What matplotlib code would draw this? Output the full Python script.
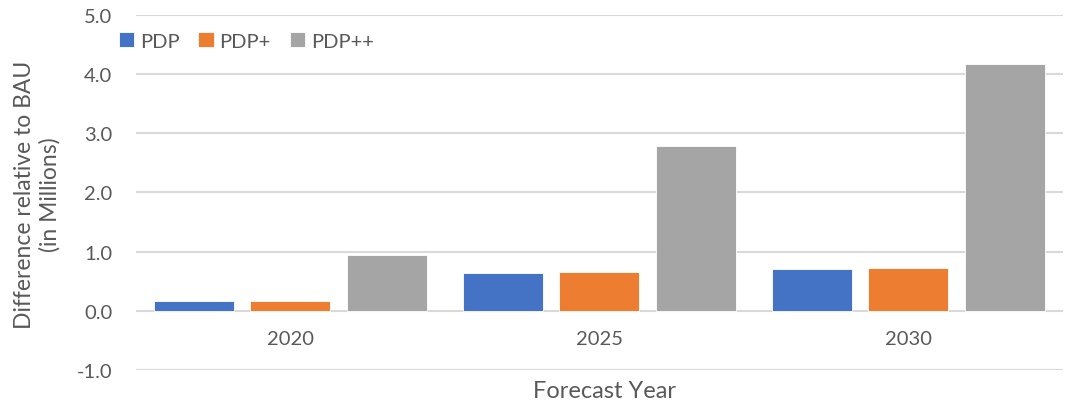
import matplotlib
matplotlib.use("Agg")
import matplotlib.pyplot as plt
import numpy as np

years = ["2020", "2025", "2030"]
series_names = ["PDP", "PDP+", "PDP++"]
pdp = [0.17, 0.64, 0.70]
pdp_plus = [0.17, 0.65, 0.72]
pdp_plus_plus = [0.95, 2.78, 4.17]
y_ticks = [-1.0, 0.0, 1.0, 2.0, 3.0, 4.0, 5.0]

colors = ["#4472C4", "#ED7D31", "#A5A5A5"]
text_color = "#595959"
grid_color = "#D9D9D9"

plt.rcParams["font.family"] = ["Lato", "DejaVu Sans"]

fig = plt.figure(figsize=(10.68, 4.06), dpi=100)
ax = fig.add_axes([0.1273, 0.0862, 0.8680, 0.8744])

x = np.arange(len(years))
bar_w = 0.259
pitch = 0.311
values = [pdp, pdp_plus, pdp_plus_plus]
handles = []
for i, (name, vals, c) in enumerate(zip(series_names, values, colors)):
    b = ax.bar(x + (i - 1) * pitch, vals, width=bar_w, color=c,
               edgecolor="white", linewidth=0.6, label=name, zorder=3)
    handles.append(b)

ax.set_xlim(-0.5, len(years) - 0.5)
ax.set_ylim(y_ticks[0], y_ticks[-1])
ax.set_yticks(y_ticks)
ax.set_yticklabels([f"{t:.1f}" for t in y_ticks], fontsize=14.5, color=text_color)
ax.tick_params(axis="y", length=0, pad=17)
ax.set_xticks([])
ax.grid(axis="y", color=grid_color, linewidth=1.5, zorder=0)
for s in ax.spines.values():
    s.set_visible(False)

# category labels sit just under the zero line
for xi, yr in zip(x, years):
    ax.text(xi, -0.47, yr, ha="center", va="center", fontsize=14.5, color=text_color)

fig.text(0.566, 0.035, "Forecast Year", ha="center", va="center",
         fontsize=17, color=text_color)
fig.text(0.035, 0.52, "Difference relative to BAU\n(in Millions)", ha="center",
         va="center", rotation=90, fontsize=16.5, color=text_color, linespacing=1.2)

leg = fig.legend(handles=handles, labels=series_names, loc="center left",
                 bbox_to_anchor=(0.111, 0.897), ncol=3, frameon=False,
                 fontsize=14.5, handlelength=0.75, handleheight=0.75,
                 handletextpad=0.3, columnspacing=0.95, borderaxespad=0,
                 borderpad=0)
for t in leg.get_texts():
    t.set_color(text_color)

fig.savefig("out.png", dpi=100, facecolor="white")
